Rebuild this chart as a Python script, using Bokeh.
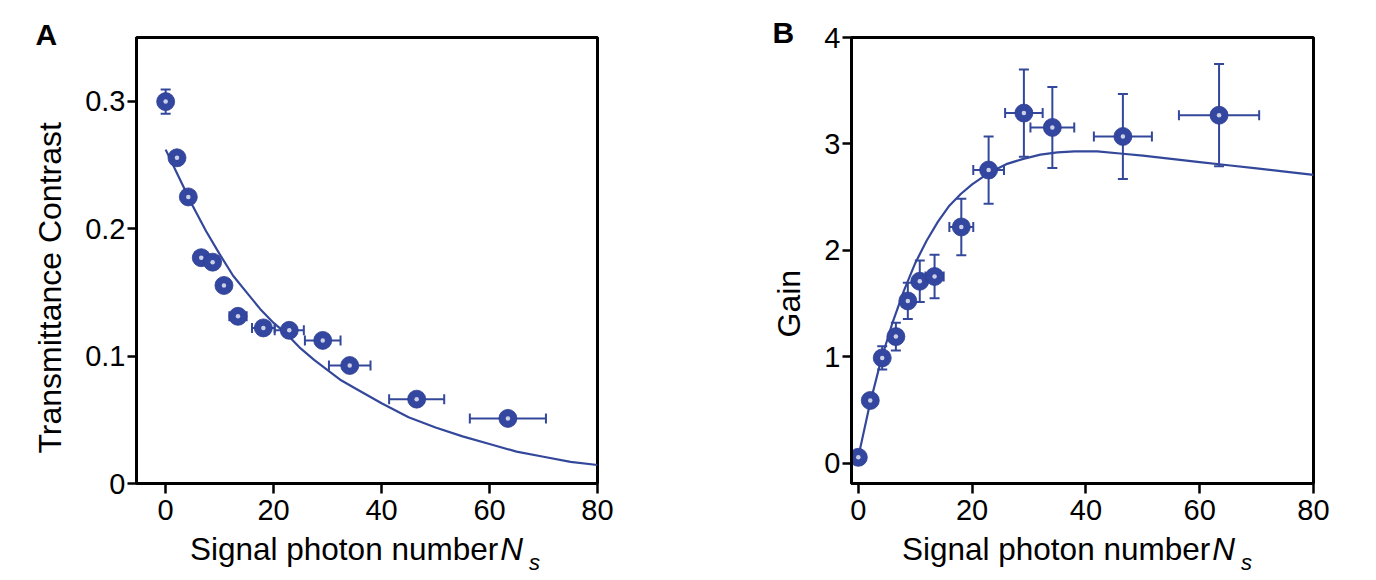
from bokeh.plotting import figure
from bokeh.layouts import row, column
from bokeh.models import (ColumnDataSource, Whisker, TeeHead, Range1d,
                          FixedTicker, Title, Div)
from bokeh.embed import file_html
from bokeh.resources import INLINE

# ---------------- data ----------------
ns = [0.0, 2.1, 4.2, 6.6, 8.7, 10.8, 13.4, 18.1, 22.9, 29.1, 34.1, 46.5, 63.4]
ns_err = [0.0, 0.0, 0.0, 0.0, 0.0, 0.0, 1.6, 2.1, 2.7, 3.3, 3.85, 5.1, 7.05]

contrast = [0.2997, 0.2556, 0.2249, 0.1772, 0.1737, 0.1554, 0.1312,
            0.1221, 0.1202, 0.1123, 0.0926, 0.0662, 0.0511]
contrast_err = [0.0095, 0.004, 0.004, 0.004, 0.004, 0.004, 0.004,
                0.004, 0.004, 0.004, 0.004, 0.004, 0.004]

gain = [0.056, 0.59, 0.99, 1.19, 1.525, 1.71, 1.755, 2.22, 2.755,
        3.29, 3.155, 3.07, 3.27]
gain_err = [0.03, 0.05, 0.11, 0.13, 0.17, 0.195, 0.205, 0.265, 0.316,
            0.41, 0.38, 0.40, 0.48]

fitA_x = [0, 2.5, 5, 7.5, 10, 12.5, 15, 17.5, 20, 22.5, 25, 27.5, 30, 32.5,
          35, 40, 45, 50, 55, 60, 65, 70, 75, 80]
fitA_y = [0.262, 0.240, 0.218, 0.198, 0.180, 0.163, 0.150, 0.137, 0.126,
          0.117, 0.106, 0.097, 0.089, 0.081, 0.075, 0.063, 0.052, 0.044,
          0.037, 0.031, 0.025, 0.021, 0.017, 0.0145]

fitB_x = [0, 2, 4, 6, 8, 10, 12, 14, 16, 18, 20, 23, 26, 29, 32, 35, 38,
          42, 46, 50, 55, 60, 65, 70, 75, 80]
fitB_y = [0.06, 0.55, 0.97, 1.32, 1.62, 1.88, 2.09, 2.27, 2.42, 2.53, 2.62,
          2.73, 2.81, 2.86, 2.90, 2.92, 2.93, 2.93, 2.91, 2.89, 2.86, 2.83,
          2.80, 2.77, 2.74, 2.71]

x_ticks = [0, 20, 40, 60, 80]
yA_ticks = [0, 0.1, 0.2, 0.3]
yA_labels = ["0", "0.1", "0.2", "0.3"]
yB_ticks = [0, 1, 2, 3, 4]

x_title = "Signal photon number"
x_sym, x_sub = "N", "s"

# ---------------- style ----------------
LINE = "#34489b"
DOT = "#3346a0"
FONT = "Liberation Sans"


def make_fig(width, x_rng, y_rng, border_left, border_right):
    p = figure(width=width, height=534, x_range=Range1d(*x_rng),
               y_range=Range1d(*y_rng), output_backend="svg",
               toolbar_location=None, min_border_left=border_left,
               min_border_right=border_right, min_border_top=37,
               min_border_bottom=51)
    p.xgrid.visible = False
    p.ygrid.visible = False
    p.outline_line_color = "black"
    p.outline_line_width = 3
    p.outline_line_alpha = 1
    p.background_fill_color = "white"
    p.border_fill_color = "white"
    for ax in (p.xaxis[0], p.yaxis[0]):
        ax.axis_line_color = "black"
        ax.axis_line_width = 3
        ax.major_tick_line_color = "black"
        ax.major_tick_line_width = 2.5
        ax.major_tick_in = 0
        ax.minor_tick_line_color = None
        ax.major_label_text_font = FONT
        ax.major_label_text_font_size = "29px"
        ax.major_label_text_color = "black"
    p.xaxis[0].major_tick_out = 10
    p.xaxis[0].major_label_standoff = 6
    p.yaxis[0].major_tick_out = 9
    p.yaxis[0].major_label_standoff = 2
    p.xaxis[0].ticker = FixedTicker(ticks=x_ticks)
    return p


def add_data(p, xs, ys, xerr, yerr, fx, fy):
    src = ColumnDataSource(dict(
        x=xs, y=ys,
        xl=[a - e for a, e in zip(xs, xerr)], xu=[a + e for a, e in zip(xs, xerr)],
        yl=[a - e for a, e in zip(ys, yerr)], yu=[a + e for a, e in zip(ys, yerr)],
    ))
    p.line(fx, fy, line_color=LINE, line_width=2.2)
    for dim, base, lo, up in (("height", "x", "yl", "yu"), ("width", "y", "xl", "xu")):
        w = Whisker(source=src, base=base, lower=lo, upper=up, dimension=dim,
                    line_color=LINE, line_width=2, level="underlay",
                    upper_head=TeeHead(size=10, line_color=LINE, line_width=2),
                    lower_head=TeeHead(size=10, line_color=LINE, line_width=2))
        p.add_layout(w)
    p.scatter("x", "y", source=src, size=18, fill_color=DOT,
              line_color="#2d3f93", line_width=0.8)
    p.scatter("x", "y", source=src, size=4.5, fill_color="white",
              fill_alpha=0.75, line_color=None)


def add_titles(p, panel, panel_offset, panel_standoff, ytitle, ytitle_offset):
    p.add_layout(Title(text=panel, align="left", offset=panel_offset,
                       text_font=FONT, text_font_size="30px",
                       text_font_style="bold", text_color="black",
                       standoff=panel_standoff, vertical_align="bottom"), "above")
    p.add_layout(Title(text=ytitle, align="left", offset=ytitle_offset,
                       text_font=FONT, text_font_size="32px",
                       text_font_style="normal", text_color="black",
                       standoff=30, vertical_align="bottom"), "left")


def x_title_div(width, pad_left):
    html = (
        f'<div style="font-family:\'{FONT}\';font-size:31.5px;line-height:31px;'
        f'padding-left:{pad_left}px;white-space:nowrap;color:#000;margin:0">'
        f'{x_title}<span style="font-style:italic;margin-left:2px">{x_sym}</span>'
        f'<span style="font-style:italic;font-size:22px;position:relative;'
        f'top:10px;margin-left:6px">{x_sub}</span></div>'
    )
    return Div(text=html, width=width, height=46, margin=(0, 0, 0, 0))


# ---------------- panel A ----------------
pA = make_fig(648, (-5.4, 80), (0, 0.35), 136, 51)
pA.yaxis[0].ticker = FixedTicker(ticks=yA_ticks)
pA.yaxis[0].major_label_overrides = {t: l for t, l in zip(yA_ticks, yA_labels)}
add_data(pA, ns, contrast, ns_err, contrast_err, fitA_x, fitA_y)
add_titles(pA, "A", -101, -27, "Transmittance Contrast", 30)

# ---------------- panel B ----------------
pB = make_fig(712, (-1.2, 80), (-0.19, 4), 203, 47)
pB.yaxis[0].ticker = FixedTicker(ticks=yB_ticks)
add_data(pB, ns, gain, ns_err, gain_err, fitB_x, fitB_y)
add_titles(pB, "B", -79, -23, "Gain", 146)

layout = column(row(pA, pB), row(x_title_div(648, 190), x_title_div(712, 254)))
open("out.html", "w").write(file_html(layout, INLINE))
